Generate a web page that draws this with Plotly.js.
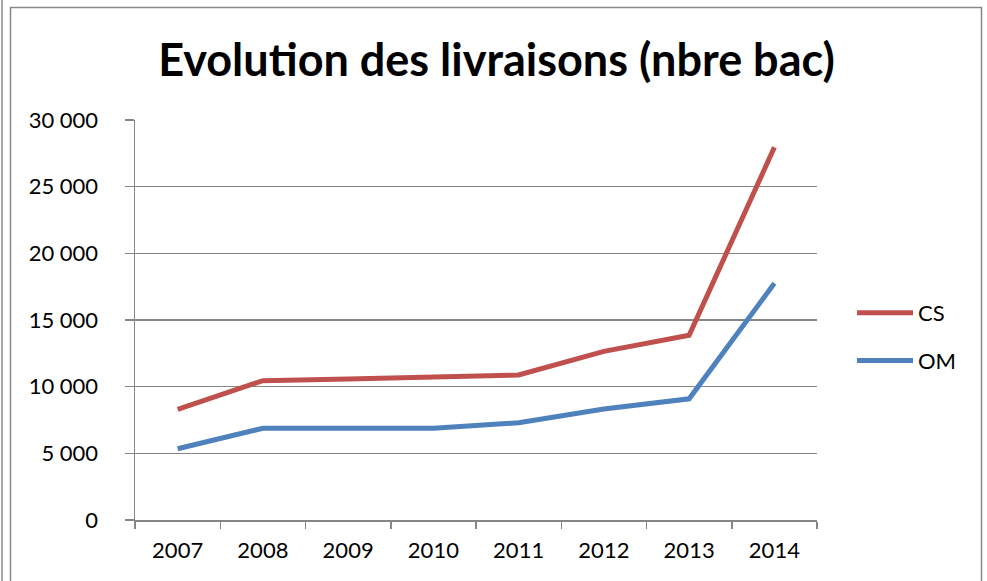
<!DOCTYPE html>
<html>
<head>
<meta charset="utf-8">
<script src="https://cdn.plot.ly/plotly-3.0.1.min.js"></script>
<style>html,body{margin:0;padding:0;background:#fff;}#chart{width:987px;height:581px;}</style>
</head>
<body>
<div id="chart"></div>
<script>
const years = ["2007","2008","2009","2010","2011","2012","2013","2014"];
const csValues = [8300, 10450, 10580, 10700, 10880, 12650, 13850, 27950];
const omValues = [5340, 6880, 6880, 6880, 7290, 8330, 9090, 17750];
const yTickVals = [0, 5000, 10000, 15000, 20000, 25000, 30000];
const yTickText = ["0", "5 000", "10 000", "15 000", "20 000", "25 000", "30 000"];

const font = "Lato, 'Open Sans', sans-serif";
const traces = [
  {x: years, y: csValues, name: "CS", legendgroup: "cs", type: "scatter", mode: "lines",
   line: {color: "#C0504D", width: 5}},
  {x: years, y: omValues, name: "OM", legendgroup: "om", type: "scatter", mode: "lines",
   line: {color: "#4F81BD", width: 5}}
];
const L = 135, R = 817, T = 120, B = 520, W = 987, H = 581;
const px = v => (v - L) / (R - L);
const py = v => (B - v) / (B - T);
const layout = {
  width: W, height: H,
  margin: {l: L, r: W - R, t: T, b: H - B},
  paper_bgcolor: "#fff", plot_bgcolor: "#fff",
  font: {family: font, size: 22, color: "#000"},
  title: {text: "<b>Evolution des livraisons (nbre bac)</b>", font: {family: font, size: 45, color: "#000"},
          x: 0.503, xanchor: "center", y: 1 - 60 / H, yanchor: "middle"},
  xaxis: {type: "category", showgrid: false, showline: true, linecolor: "#868686", linewidth: 1.5,
          ticks: "outside", ticklen: 7, tickcolor: "#868686", tickwidth: 1.5, tickson: "boundaries",
          range: [-0.5, 7.5], fixedrange: true, ticklabelstandoff: 10, tickfont: {size: 22}},
  yaxis: {range: [0, 30000], tickvals: yTickVals, ticktext: yTickText, showgrid: true,
          gridcolor: "#868686", gridwidth: 1.5, showline: true, linecolor: "#868686", linewidth: 1.5,
          ticks: "outside", ticklen: 9, tickcolor: "#868686", tickwidth: 1.5, zeroline: false,
          ticklabelstandoff: 22, tickfont: {size: 22}},
  legend: {x: px(852), xanchor: "left", y: py(337), yanchor: "middle", itemwidth: 56,
           font: {size: 22}, tracegroupgap: 16, bgcolor: "rgba(0,0,0,0)"},
  showlegend: true,
  shapes: [
    {type: "rect", xref: "paper", yref: "paper", x0: px(10.5), x1: px(981.5), y0: py(595), y1: py(7.5),
     line: {color: "#888", width: 1.5}, fillcolor: "rgba(0,0,0,0)", layer: "below"},
    {type: "line", xref: "paper", yref: "paper", x0: px(2), x1: px(2), y0: py(590), y1: py(0),
     line: {color: "#888", width: 1.5}}
  ]
};
Plotly.newPlot("chart", traces, layout, {staticPlot: true, displayModeBar: false});
</script>
</body>
</html>
